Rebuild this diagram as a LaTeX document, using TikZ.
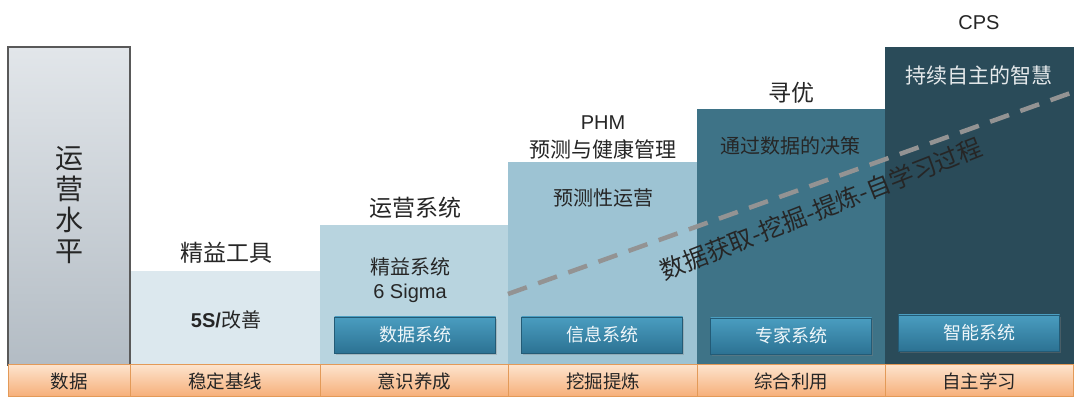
\documentclass[tikz,border=0pt]{standalone}
\usepackage{fontspec}
\setmainfont{Liberation Sans}
\newfontfamily\cjk{Noto Sans CJK SC}
\usetikzlibrary{shadows}
\definecolor{c0top}{HTML}{E2E6EA}
\definecolor{c0bot}{HTML}{B3BCC4}
\definecolor{c1}{HTML}{DCE8EE}
\definecolor{c2}{HTML}{B8D4DF}
\definecolor{c3}{HTML}{9DC3D3}
\definecolor{c4}{HTML}{3E7387}
\definecolor{c5}{HTML}{2A4B59}
\definecolor{btop}{HTML}{4A9DC0}
\definecolor{bbot}{HTML}{2C7293}
\definecolor{otop}{HTML}{FDE3CC}
\definecolor{obot}{HTML}{F6AE78}
\definecolor{oline}{HTML}{E39A58}
\definecolor{txt}{HTML}{262626}
\tikzset{
  x=1pt, y=-1pt,
  lbl/.style={font=\cjk\fontsize{#1}{#1}\selectfont, text=txt, inner sep=0pt},
  lbl/.default=21,
  btn/.style={minimum width=161pt, minimum height=36pt, inner sep=0pt,
    top color=btop, bottom color=bbot, draw=bbot!80!black, line width=0.4pt,
    drop shadow={shadow xshift=1pt, shadow yshift=-2pt, opacity=0.35},
    font=\cjk\fontsize{18}{18}\selectfont, text=white!92!btop},
  strip/.style={draw=oline, line width=1pt, top color=otop, bottom color=obot},
  botlbl/.style={font=\cjk\fontsize{18.5}{18.5}\selectfont, text=txt, inner sep=0pt},
}
\begin{document}
\begin{tikzpicture}
\useasboundingbox (0,0) rectangle (1080,411);
\fill[white] (0,0) rectangle (1080,411);
% columns
\fill[c1] (131,271) rectangle (320,365);
\fill[c2] (320,225) rectangle (508,365);
\fill[c3] (508,162) rectangle (697,365);
\fill[c4] (697,109) rectangle (885,365);
\fill[c5] (885,47) rectangle (1074,365);
\shade[top color=c0top, bottom color=c0bot, draw=black!65, line width=1.3pt] (8,47) rectangle (130,365);
% bottom strip
\path[strip] (8,365) rectangle (1073,397);
\foreach \xx in {130,320,508,697,885} \draw[oline, line width=1pt] (\xx,365) -- (\xx,397);
% bottom labels
\node[botlbl] (b0) at (69,381) {数据};
\node[botlbl] (b1) at (225,381) {稳定基线};
\node[botlbl] (b2) at (414,381) {意识养成};
\node[botlbl] (b3) at (603,381) {挖掘提炼};
\node[botlbl] (b4) at (791,381) {综合利用};
\node[botlbl] (b5) at (979,381) {自主学习};
% buttons
\node[btn] (s2) at (415,335) {数据系统};
\node[btn] (s3) at (602,335) {信息系统};
\node[btn] (s4) at (791,336) {专家系统};
\node[btn] (s5) at (979,333) {智能系统};
% dashed line
\coordinate (d0) at (508,294);
\coordinate (d1) at (1079,90);
\draw[gray!85, line width=4.5pt, dash pattern=on 20pt off 12pt] (d0) -- (d1);
% column 0 text
\node[font=\cjk\fontsize{28}{31}\selectfont, text=txt, align=center, inner sep=0pt] (t0) at (69,205) {运\\营\\水\\平};
% column 1
\node[lbl=23] (t1a) at (226,253) {精益工具};
\node[inner sep=0pt, text=txt, font=\fontsize{20}{20}\selectfont] (t1b) at (226,320) {\textbf{5S/}{\cjk 改善}};
% column 2
\node[lbl=23] (t2a) at (415,208) {运营系统};
\node[lbl=20] (t2b) at (410,267) {精益系统};
\node[inner sep=0pt, text=txt, font=\fontsize{20}{20}\selectfont] (t2c) at (410,293) {6 Sigma};
% column 3
\node[inner sep=0pt, text=txt, font=\fontsize{20}{20}\selectfont] (t3a) at (603,123) {PHM};
\node[lbl=21] (t3b) at (603,149) {预测与健康管理};
\node[lbl=20] (t3c) at (603,198) {预测性运营};
% column 4
\node[lbl=23] (t4a) at (791,93) {寻优};
\node[lbl=20] (t4b) at (790,146) {通过数据的决策};
% column 5
\node[inner sep=0pt, text=txt, font=\fontsize{20}{20}\selectfont] (t5a) at (979,23) {CPS};
\node[lbl=21, text=white!88!c5] (t5b) at (979,76) {持续自主的智慧};
% rotated text
\node[lbl=24.5, rotate=21.5] (rt) at (821,209) {数据获取-挖掘-提炼-自学习过程};
\end{tikzpicture}
\end{document}
